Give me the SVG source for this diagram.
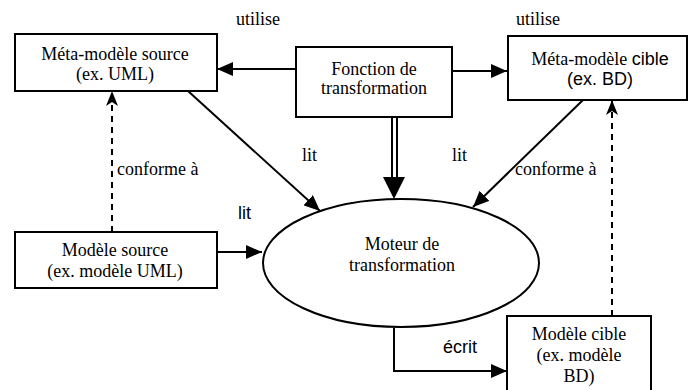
<svg xmlns="http://www.w3.org/2000/svg" width="689" height="390" viewBox="0 0 689 390">
  <style>
    .box { fill: #fff; stroke: #000; stroke-width: 2; }
    .mid { text-anchor: middle; }
    .edge { fill: none; stroke: #000; stroke-width: 2; }
    .dash { fill: none; stroke: #000; stroke-width: 2; stroke-dasharray: 6 5; }
    text { font-family: Liberation Serif, Tinos, Times New Roman, DejaVu Serif, Noto Serif, serif; font-size: 18px; fill: #000; }
    .sans { font-family: Liberation Sans, Arimo, Arial, sans-serif; }
  </style>
  <defs>
    <marker id="tri" markerUnits="userSpaceOnUse" markerWidth="16" markerHeight="14" refX="16" refY="7" orient="auto">
      <path d="M0,0 L16,7 L0,14 Z" fill="#000"/>
    </marker>
    <marker id="notch" markerUnits="userSpaceOnUse" markerWidth="15" markerHeight="14" refX="15" refY="7" orient="auto">
      <path d="M0,1 L15,7 L0,13 L4,7 Z" fill="#000"/>
    </marker>
  </defs>

  <rect width="689" height="390" fill="#fff"/>

  <!-- connectors -->
  <g id="connectors">
    <!-- utilise -->
    <line class="edge" x1="296" y1="69" x2="217" y2="69" marker-end="url(#tri)"/>
    <line class="edge" x1="452" y1="71" x2="507" y2="71" marker-end="url(#tri)"/>
    <!-- double arrow to the engine -->
    <line class="edge" x1="392" y1="117" x2="392" y2="180"/>
    <line class="edge" x1="397" y1="117" x2="397" y2="180"/>
    <path d="M383,177 L405,177 L394,199 Z" fill="#000"/>
    <!-- lit -->
    <line class="edge" x1="188" y1="91" x2="320" y2="211" marker-end="url(#tri)"/>
    <line class="edge" x1="213" y1="252" x2="262" y2="252" marker-end="url(#tri)"/>
    <!-- conforme à (meta cible -> engine) -->
    <line class="edge" x1="583" y1="100" x2="473" y2="207" marker-end="url(#tri)"/>
    <!-- conforme à (dashed) -->
    <line class="dash" x1="112" y1="232" x2="112" y2="91" marker-end="url(#notch)"/>
    <line class="dash" x1="612" y1="316" x2="612" y2="100" marker-end="url(#notch)"/>
    <!-- écrit -->
    <polyline class="edge" points="394,328 394,371 507,371" marker-end="url(#tri)"/>
  </g>

  <!-- nodes -->
  <g id="meta-source">
    <rect class="box" x="15" y="34" width="202" height="57"/>
    <text class="mid" x="115" y="60">Méta-modèle source</text>
    <text class="mid" x="115" y="80">(ex. UML)</text>
  </g>

  <g id="fonction">
    <rect class="box" x="296" y="47" width="156" height="70"/>
    <text class="mid" x="374" y="75">Fonction de</text>
    <text class="mid" x="374" y="94">transformation</text>
  </g>

  <g id="meta-cible">
    <rect class="box" x="508" y="36" width="179" height="64"/>
    <text class="mid" x="600" y="65">Méta-modèle <tspan class="sans">cible</tspan></text>
    <text class="mid sans" x="600" y="85">(ex. BD)</text>
  </g>

  <g id="modele-source">
    <rect class="box" x="15" y="232" width="202" height="56"/>
    <text class="mid" x="115" y="256">Modèle source</text>
    <text class="mid" x="115" y="277">(ex. modèle UML)</text>
  </g>

  <g id="moteur">
    <ellipse class="box" cx="401" cy="263" rx="138" ry="64"/>
    <text class="mid" x="402" y="250">Moteur de</text>
    <text class="mid" x="402" y="271">transformation</text>
  </g>

  <g id="modele-cible">
    <rect class="box" x="507" y="316" width="144" height="80"/>
    <text class="mid" x="579" y="340">Modèle cible</text>
    <text class="mid" x="579" y="361">(ex. modèle</text>
    <text class="mid" x="579" y="382">BD)</text>
  </g>

  <!-- edge labels -->
  <g id="labels">
    <text x="236" y="25">utilise</text>
    <text x="516" y="25">utilise</text>
    <text x="302" y="161">lit</text>
    <text x="452" y="161">lit</text>
    <text class="sans" x="238" y="219">lit</text>
    <text x="117" y="175">conforme à</text>
    <text x="515" y="175">conforme à</text>
    <text class="sans" x="443" y="353">écrit</text>
  </g>
</svg>
